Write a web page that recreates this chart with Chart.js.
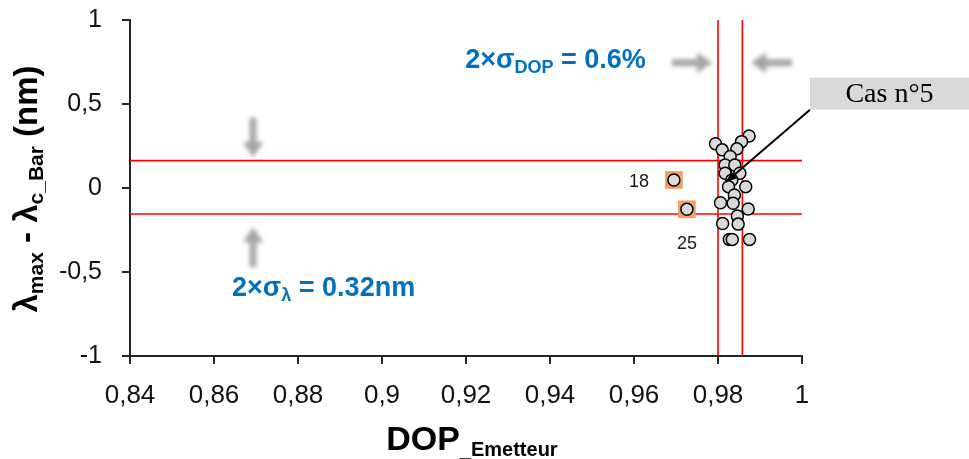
<!DOCTYPE html>
<html>
<head>
<meta charset="utf-8">
<script src="https://cdn.jsdelivr.net/npm/chart.js@4"></script>
<style>
  html, body { margin: 0; padding: 0; background: #ffffff; }
  #wrap { width: 969px; height: 459px; position: relative; }
</style>
</head>
<body>
<div id="wrap"><canvas id="c"></canvas></div>
<script>
// Emitter DOP vs. wavelength offset for each measured case
const dopValues = [0.9794, 0.9874, 0.9856, 0.9810, 0.9845, 0.9829, 0.9817, 0.9840, 0.9817, 0.9852,
                   0.9833, 0.9825, 0.9866, 0.9839, 0.9806, 0.9836, 0.9872, 0.9846, 0.9811, 0.9848,
                   0.9827, 0.9834, 0.9875];
const deltaLambda = [0.263, 0.310, 0.276, 0.227, 0.233, 0.187, 0.137, 0.137, 0.088, 0.088,
                     0.048, 0.008, 0.008, -0.042, -0.088, -0.091, -0.125, -0.167, -0.211, -0.215,
                     -0.306, -0.306, -0.306];

// Highlighted cases lying outside the DOP band
const outlierLabels = ['18', '25'];
const outlierDop = [0.9695, 0.9726];
const outlierDelta = [0.048, -0.127];

// 2-sigma bands
const dopLimits = [0.9800, 0.9858];
const lambdaLimits = [0.163, -0.155];

// Axis ticks
const xTickValues = [0.84, 0.86, 0.88, 0.9, 0.92, 0.94, 0.96, 0.98, 1];
const yTickValues = [-1, -0.5, 0, 0.5, 1];

// Callout
const caseLabel = 'Cas n°5';
const caseTarget = [0.9819, 0.036];

const fmt = v => String(Number(v.toFixed(2))).replace('.', ',');

const datasets = [];
dopLimits.forEach(d => datasets.push({
  data: [{ x: d, y: yTickValues[0] }, { x: d, y: yTickValues[yTickValues.length - 1] }],
  showLine: true, borderColor: '#FF0000', borderWidth: 1.6, pointRadius: 0, order: 10
}));
lambdaLimits.forEach(l => datasets.push({
  data: [{ x: xTickValues[0], y: l }, { x: xTickValues[xTickValues.length - 1], y: l }],
  showLine: true, borderColor: '#FF0000', borderWidth: 1.6, pointRadius: 0, order: 10
}));
datasets.push({
  data: outlierDop.map((x, i) => ({ x, y: outlierDelta[i] })),
  pointStyle: 'rect', pointRadius: 12.5, backgroundColor: '#F3A065', borderWidth: 0, order: 5
});
datasets.push({
  data: dopValues.map((x, i) => ({ x, y: deltaLambda[i] }))
    .concat(outlierDop.map((x, i) => ({ x, y: outlierDelta[i] }))),
  pointRadius: 6, backgroundColor: '#D9D9D9', borderColor: '#000000', borderWidth: 1.5, order: 1
});

function richText(ctx, parts, x, y, align) {
  let w = 0;
  parts.forEach(p => { ctx.font = p[1]; w += ctx.measureText(p[0]).width; });
  let cx = align === 'center' ? x - w / 2 : x;
  parts.forEach(p => {
    ctx.font = p[1];
    ctx.fillText(p[0], cx, y + (p[2] || 0));
    cx += ctx.measureText(p[0]).width;
  });
}

function blockArrow(ctx, x1, y1, x2, y2, shaft, headW, headL) {
  const ang = Math.atan2(y2 - y1, x2 - x1), len = Math.hypot(x2 - x1, y2 - y1);
  ctx.save();
  ctx.translate(x1, y1);
  ctx.rotate(ang);
  ctx.beginPath();
  ctx.moveTo(0, -shaft / 2);
  ctx.lineTo(len - headL, -shaft / 2);
  ctx.lineTo(len - headL, -headW / 2);
  ctx.lineTo(len, 0);
  ctx.lineTo(len - headL, headW / 2);
  ctx.lineTo(len - headL, shaft / 2);
  ctx.lineTo(0, shaft / 2);
  ctx.closePath();
  ctx.fill();
  ctx.restore();
}

const B = '"Liberation Sans", Arial, sans-serif';

const annotations = {
  id: 'annotations',
  afterDatasetsDraw(chart) {
    const ctx = chart.ctx, xs = chart.scales.x, ys = chart.scales.y;
    const X = v => xs.getPixelForValue(v), Y = v => ys.getPixelForValue(v);
    ctx.save();

    // soft grey arrows pointing at the bands
    ctx.fillStyle = '#A6A6A6';
    ctx.filter = 'blur(2px)';
    blockArrow(ctx, X(0.8693), Y(0.418), X(0.8693), Y(0.185), 7, 21, 15);
    blockArrow(ctx, X(0.8693), Y(-0.472), X(0.8693), Y(-0.233), 7, 21, 15);
    blockArrow(ctx, X(0.969), Y(0.746), X(0.9786), Y(0.746), 7, 21, 15);
    blockArrow(ctx, X(0.9976), Y(0.746), X(0.9879), Y(0.746), 7, 21, 15);
    ctx.filter = 'none';

    // band widths
    ctx.fillStyle = '#0070C0';
    ctx.textAlign = 'left';
    ctx.textBaseline = 'alphabetic';
    richText(ctx, [['2×σ', 'bold 27px ' + B], ['DOP', 'bold 18px ' + B, 5], [' = 0.6%', 'bold 27px ' + B]],
      X(0.9198), Y(0.716), 'left');
    richText(ctx, [['2×σ', 'bold 27px ' + B], ['λ', 'bold 18px ' + B, 5], [' = 0.32nm', 'bold 27px ' + B]],
      X(0.8643), Y(-0.645), 'left');

    // case numbers next to the highlighted points
    ctx.fillStyle = '#1A1A1A';
    ctx.font = '18px ' + B;
    ctx.textAlign = 'center';
    ctx.textBaseline = 'middle';
    ctx.fillText(outlierLabels[0], X(outlierDop[0]) - 35, Y(outlierDelta[0]) + 2);
    ctx.fillText(outlierLabels[1], X(outlierDop[1]), Y(outlierDelta[1]) + 35);

    // callout box and leader
    const bx = X(1.0019), by0 = Y(0.657), by1 = Y(0.466);
    ctx.fillStyle = '#D9D9D9';
    ctx.fillRect(bx, by0, chart.width - bx, by1 - by0);
    ctx.fillStyle = '#000000';
    ctx.font = '28px "Liberation Serif", "Times New Roman", serif';
    ctx.fillText(caseLabel, (bx + chart.width) / 2, (by0 + by1) / 2 + 1);

    const tx = X(caseTarget[0]), ty = Y(caseTarget[1]);
    ctx.strokeStyle = '#000000';
    ctx.lineWidth = 2;
    ctx.beginPath();
    ctx.moveTo(bx, by1);
    ctx.lineTo(tx, ty);
    ctx.stroke();
    const a = Math.atan2(ty - by1, tx - bx);
    ctx.beginPath();
    ctx.moveTo(tx, ty);
    ctx.lineTo(tx - 11 * Math.cos(a) + 4.5 * Math.sin(a), ty - 11 * Math.sin(a) - 4.5 * Math.cos(a));
    ctx.lineTo(tx - 11 * Math.cos(a) - 4.5 * Math.sin(a), ty - 11 * Math.sin(a) + 4.5 * Math.cos(a));
    ctx.closePath();
    ctx.fill();

    ctx.restore();
  },
  afterDraw(chart) {
    const ctx = chart.ctx, xs = chart.scales.x;
    ctx.save();
    ctx.fillStyle = '#000000';
    ctx.textAlign = 'left';
    ctx.textBaseline = 'alphabetic';

    // y axis title (rotated)
    ctx.save();
    ctx.translate(37, (chart.chartArea.top + chart.chartArea.bottom) / 2 + 1);
    ctx.rotate(-Math.PI / 2);
    richText(ctx, [
      ['λ', 'bold 33px ' + B], ['max', 'bold 21px ' + B, 6], [' - ', 'bold 33px ' + B],
      ['λ', 'bold 33px ' + B], ['c_Bar', 'bold 21px ' + B, 6], [' (nm)', 'bold 33px ' + B]
    ], 0, 0, 'center');
    ctx.restore();

    // x axis title
    richText(ctx, [['DOP', 'bold 34px ' + B], ['_Emetteur', 'bold 20px ' + B, 6]],
      xs.getPixelForValue(0.9214), 450, 'center');
    ctx.restore();
  }
};

new Chart(document.getElementById('c'), {
  type: 'scatter',
  data: { datasets },
  options: {
    responsive: true,
    maintainAspectRatio: false,
    animation: false,
    layout: { padding: { top: 20, right: 167, bottom: 0, left: 0 } },
    plugins: { legend: { display: false }, tooltip: { enabled: false } },
    scales: {
      x: {
        type: 'linear', position: 'bottom',
        min: xTickValues[0], max: xTickValues[xTickValues.length - 1],
        afterBuildTicks: s => { s.ticks = xTickValues.map(v => ({ value: v })); },
        afterFit: s => { s.height = 103; },
        grid: { drawOnChartArea: false, drawTicks: true, tickLength: 8, color: '#262626', lineWidth: 2 },
        border: { display: true, color: '#262626', width: 2 },
        ticks: { padding: 16, color: '#111111', font: { family: 'Liberation Sans', size: 26 },
                 maxRotation: 0, autoSkip: false, callback: v => fmt(v) }
      },
      y: {
        type: 'linear',
        min: yTickValues[0], max: yTickValues[yTickValues.length - 1],
        afterBuildTicks: s => { s.ticks = yTickValues.map(v => ({ value: v })); },
        afterFit: s => { s.width = 130; s.paddingTop = 0; s.paddingBottom = 0; },
        grid: { drawOnChartArea: false, drawTicks: true, tickLength: 8, color: '#262626', lineWidth: 2 },
        border: { display: true, color: '#262626', width: 2 },
        ticks: { padding: 20, color: '#111111', font: { family: 'Liberation Sans', size: 25 },
                 autoSkip: false, callback: v => fmt(v) }
      }
    }
  },
  plugins: [annotations]
});
</script>
</body>
</html>
